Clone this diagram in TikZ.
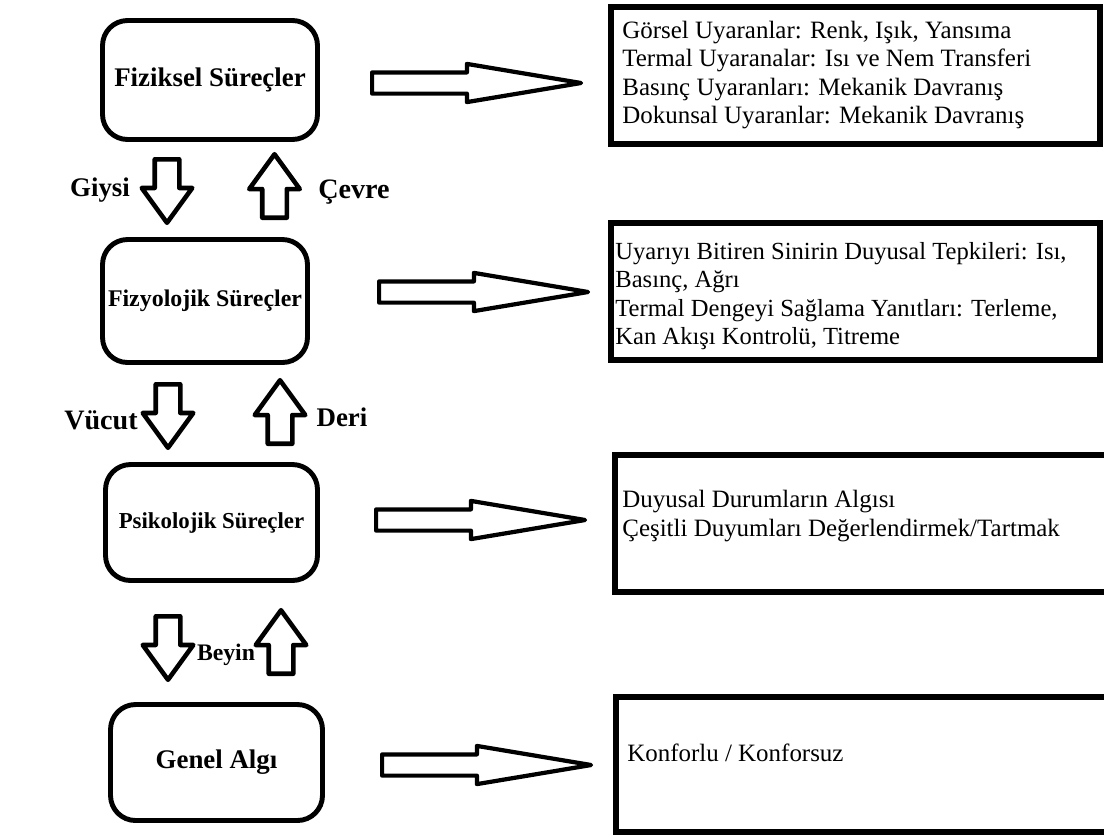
\documentclass[tikz,border=0pt]{standalone}
\usepackage{fontspec}
\setmainfont{Liberation Serif}
\usetikzlibrary{shapes.arrows, positioning}

\tikzset{
  stage/.style={draw, rectangle, rounded corners=0.5cm, line width=2.8pt, inner sep=0pt,
    font=\fontsize{15.3}{18}\selectfont\bfseries},
  infobox/.style={draw, rectangle, line width=3.4pt, inner sep=0pt, minimum height=2.74cm},
  infotext/.style={anchor=west, align=left, inner sep=0pt, font=\fontsize{14.2}{16.2}\selectfont},
  side/.style={inner sep=0pt, font=\fontsize{15.3}{18}\selectfont\bfseries},
  harrow/.style={single arrow, draw, line width=2.4pt, line join=round, anchor=tail,
    inner xsep=0pt, inner ysep=0.17cm, minimum width=0pt, single arrow head extend=0.17cm,
    single arrow tip angle=19, minimum height=4.18cm},
  varrow/.style={single arrow, draw, line width=2.6pt, line join=round, anchor=tail,
    inner xsep=0pt, inner ysep=0.2cm, minimum width=0pt, single arrow head extend=0.26cm,
    single arrow tip angle=72, minimum height=1.27cm}
}

\begin{document}
\begin{tikzpicture}[x=0.02cm, y=-0.02cm]
    \path[use as bounding box, clip] (0,0) rectangle (1104,836);

    % Process stages
    \node[stage, minimum width=4.3cm, minimum height=2.38cm] (fiz) at (210,80) {Fiziksel Süreçler};
    \node[stage, minimum width=4.1cm, minimum height=2.46cm, font=\fontsize{13.6}{16}\selectfont\bfseries] (fzy) at (205,301) {Fizyolojik Süreçler};
    \node[stage, minimum width=4.24cm, minimum height=2.32cm, font=\fontsize{13}{16}\selectfont\bfseries] (psi) at (211.5,522.5) {Psikolojik Süreçler};
    \node[stage, minimum width=4.24cm, minimum height=2.32cm] (gen) at (216.5,762.5) {Genel Algı};

    % Between stages (tail given, arrows point down / up)
    \node[varrow, rotate=-90] (gdown) at (167,157) {};
    \node[varrow, rotate=90] (gup) at (274.5,220) {};
    \node[side] (giysi) at (100,190) {Giysi};
    \node[side, font=\fontsize{16}{18}\selectfont\bfseries] (cevre) at (354,192) {Çevre};

    \node[varrow, rotate=-90] (vdown) at (168,382) {};
    \node[varrow, rotate=90] (vup) at (280,446) {};
    \node[side, font=\fontsize{16}{18}\selectfont\bfseries] (vucut) at (101,420) {Vücut};
    \node[side] (deri) at (342,417) {Deri};

    \node[varrow, rotate=-90] (bdown) at (168,614) {};
    \node[varrow, rotate=90] (bup) at (281,676) {};
    \node[side, font=\fontsize{13.5}{16}\selectfont\bfseries] (beyin) at (226,655) {Beyin};

    % Outputs
    \node[harrow] (out1) at (370,83) {};
    \node[harrow] (out2) at (377,292) {};
    \node[harrow] (out3) at (374,520) {};
    \node[harrow] (out4) at (380,765) {};

    \node[infobox, minimum width=9.78cm] (info1) at (855.5,75.5) {};
    \node[infobox, minimum width=9.78cm] (info2) at (855.5,291.5) {};
    \node[infobox, minimum width=10.1cm] (info3) at (867.5,523.5) {};
    \node[infobox, minimum width=10.08cm, minimum height=2.7cm] (info4) at (868,764.5) {};

    \node[infotext] (txt1) at (622,75) {Görsel Uyaranlar: Renk, Işık, Yansıma\\
      Termal Uyaranalar: Isı ve Nem Transferi\\
      Basınç Uyaranları: Mekanik Davranış\\
      Dokunsal Uyaranlar: Mekanik Davranış};
    \node[infotext, font=\fontsize{14}{16.2}\selectfont] (txt2) at (615,296) {Uyarıyı Bitiren Sinirin Duyusal Tepkileri: Isı,\\
      Basınç, Ağrı\\
      Termal Dengeyi Sağlama Yanıtları: Terleme,\\
      Kan Akışı Kontrolü, Titreme};
    \node[infotext] (txt3) at (622,516) {Duyusal Durumların Algısı\\
      Çeşitli Duyumları Değerlendirmek/Tartmak};
    \node[infotext] (txt4) at (627,753) {Konforlu / Konforsuz};
\end{tikzpicture}
\end{document}
